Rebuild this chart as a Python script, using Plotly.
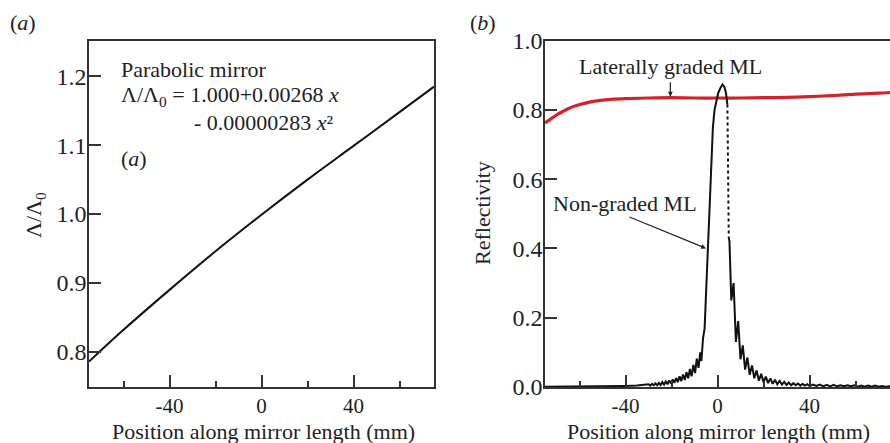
import plotly.graph_objects as go

# ---------------- data ----------------
# (a) normalized period along the parabolic mirror
pos_a = [-75, -60, -40, -20, 0, 20, 40, 60, 75]
ratio_a = [0.786, 0.832, 0.890, 0.946, 0.999, 1.050, 1.099, 1.148, 1.185]

# (b) laterally graded multilayer reflectivity
pos_graded = [-75, -72, -70, -67, -65, -62, -60, -57, -55, -50, -45, -40, -30, -20, -10, 0, 10, 20, 30, 40, 50, 60, 70, 75]
refl_graded = [0.762, 0.776, 0.785, 0.796, 0.803, 0.811, 0.815, 0.820, 0.823, 0.828, 0.831, 0.832, 0.834, 0.835, 0.834, 0.834, 0.834, 0.835, 0.836, 0.838, 0.841, 0.845, 0.848, 0.850]

# (b) non-graded multilayer reflectivity
pos_nongraded = [
    -75, -60, -50, -40, -35,
    -30, -29.25, -28.5, -27.75, -27, -26.25, -25.5, -24.75, -24, -23.25, -22.5, -21.75,
    -21, -20.25, -19.5, -18.75, -18, -17.25, -16.5, -15.75, -15, -14.25, -13.5, -12.75,
    -12, -11.25, -10.5, -9.75, -9, -8.25, -7.5, -7.0,
    -6.3, -5.6, -5.1, -4.7, -4.3, -3.8, -3.4, -3.0, -2.5, -2.0, -1.3, -0.5, 0.3, 1.2, 2.2, 3.0, 3.7, 4.3,
]
refl_nongraded = [
    0.001, 0.001, 0.002, 0.003, 0.004,
    0.008, 0.004, 0.009, 0.005, 0.010, 0.005, 0.012, 0.006, 0.014, 0.007, 0.016, 0.008,
    0.019, 0.010, 0.022, 0.012, 0.026, 0.014, 0.031, 0.017, 0.036, 0.020, 0.043, 0.025,
    0.052, 0.031, 0.064, 0.040, 0.082, 0.055, 0.100, 0.075,
    0.140, 0.170, 0.250, 0.320, 0.380, 0.480, 0.560, 0.620, 0.690, 0.750, 0.800, 0.830, 0.848, 0.862, 0.873, 0.866, 0.848, 0.815,
]
# sparsely sampled steep drop on the right edge of the peak
pos_drop = [4.3, 4.5, 4.7, 4.9]
refl_drop = [0.815, 0.700, 0.570, 0.430]
# ringing tail on the right side
pos_tail = [
    4.9, 5.2, 6, 7, 8, 9, 10, 11, 12, 13, 14, 15, 16, 17, 18, 19, 20, 21, 22, 23, 24, 25, 26, 27, 28, 29, 30,
    31, 32, 33, 34, 35, 36, 37, 38, 39, 40, 41.5, 43, 44.5, 46, 47.5, 49, 50.5, 52, 53.5, 55, 56.5, 58,
    59.5, 61, 62.5, 64, 65.5, 67, 68.5, 70, 71.5, 73, 75,
]
refl_tail = [
    0.430, 0.420, 0.250, 0.300, 0.130, 0.190, 0.080, 0.120, 0.050, 0.085, 0.035, 0.062, 0.025, 0.048, 0.018, 0.038, 0.014, 0.030, 0.011, 0.025, 0.009, 0.021, 0.008, 0.018, 0.007, 0.015, 0.006,
    0.013, 0.005, 0.011, 0.005, 0.010, 0.004, 0.009, 0.004, 0.008, 0.003, 0.007, 0.003, 0.007, 0.002, 0.006, 0.002, 0.006, 0.002, 0.005, 0.002, 0.005, 0.002,
    0.005, 0.001, 0.004, 0.001, 0.004, 0.001, 0.004, 0.001, 0.003, 0.001, 0.002,
]

x_ticks = [-40, 0, 40]
x_ticklabels = ["-40", "0", "40"]
y_ticks_a = [0.8, 0.9, 1.0, 1.1, 1.2]
y_ticks_b = [0.0, 0.2, 0.4, 0.6, 0.8, 1.0]

# ---------------- figure ----------------
W, H = 890, 443
FONT = "Liberation Serif"
INK = "#222222"
AX = "#333333"

fig = go.Figure()
fig.add_trace(go.Scatter(x=pos_a, y=ratio_a, mode="lines", line=dict(color="#111111", width=2, shape="spline"),
                         xaxis="x", yaxis="y", showlegend=False))
fig.add_trace(go.Scatter(x=pos_graded, y=refl_graded, mode="lines", line=dict(color="#d0242a", width=3.2, shape="spline"),
                         xaxis="x2", yaxis="y2", showlegend=False))
fig.add_trace(go.Scatter(x=pos_nongraded, y=refl_nongraded, mode="lines", line=dict(color="#111111", width=2),
                         xaxis="x2", yaxis="y2", showlegend=False))
fig.add_trace(go.Scatter(x=pos_drop, y=refl_drop, mode="lines", line=dict(color="#111111", width=2, dash="dot"),
                         xaxis="x2", yaxis="y2", showlegend=False))
fig.add_trace(go.Scatter(x=pos_tail, y=refl_tail, mode="lines", line=dict(color="#111111", width=2),
                         xaxis="x2", yaxis="y2", showlegend=False))

ydom = [1 - 387 / H, 1 - 40.5 / H]

def xaxis(domain, anchor):
    return dict(domain=domain, anchor=anchor, range=[-75, 75], tickvals=x_ticks, ticktext=x_ticklabels,
                ticks="inside", ticklen=12, tickwidth=1.5, tickcolor=AX, ticklabelstandoff=-1,
                minor=dict(tickvals=[-60, -20, 20, 60], ticks="inside", ticklen=6, tickwidth=1.5, tickcolor=AX),
                showline=True, linecolor=AX, linewidth=1.5, mirror=True, automargin=False,
                showgrid=False, zeroline=False,
                tickfont=dict(family=FONT, size=21, color=INK))

def yaxis(rng, vals, anchor, mirror):
    return dict(domain=ydom, range=rng, tickvals=vals, ticktext=[f"{v:.1f}" for v in vals],
                ticks="inside", ticklen=12, tickwidth=1.5, tickcolor=AX, ticklabelstandoff=-4,
                showline=True, linecolor=AX, linewidth=1.5, mirror=mirror, automargin=False,
                showgrid=False, zeroline=False, anchor=anchor,
                tickfont=dict(family=FONT, size=24, color=INK))

fig.update_layout(
    width=W, height=H, margin=dict(l=0, r=0, t=0, b=0, pad=0, autoexpand=False),
    paper_bgcolor="white", plot_bgcolor="white",
    xaxis=xaxis([89 / W, 434 / W], "y"),
    yaxis=yaxis([0.749, 1.252], y_ticks_a, "x", True),
    xaxis2=xaxis([545 / W, 1.0], "y2"),
    yaxis2=yaxis([0, 1.0], y_ticks_b, "x2", False),
)

def txt(px, py, s, anchor="left", size=22, angle=0):
    fig.add_annotation(x=px / W, y=1 - py / H, xref="paper", yref="paper", text=s, showarrow=False,
                       xanchor=anchor, yanchor="middle", textangle=angle,
                       font=dict(family=FONT, size=size, color=INK))

txt(8, 22, "(<i>a</i>)")
txt(468, 22, "(<i>b</i>)")
txt(263, 431, "Position along mirror length (mm)", anchor="center", size=22)
txt(718, 431, "Position along mirror length (mm)", anchor="center", size=22)
txt(35, 215, "Λ/Λ<sub>0</sub>", anchor="center", angle=-90)
txt(483, 213, "Reflectivity", anchor="center", angle=-90)
txt(119, 69, "Parabolic mirror")
txt(119, 96, "Λ/Λ<sub>0</sub> = 1.000+0.00268 <i>x</i>")
txt(192, 122, "- 0.00000283 <i>x</i>²")
txt(119, 158, "(<i>a</i>)")
txt(670, 67, "Laterally graded ML", anchor="center")
txt(625, 203, "Non-graded ML", anchor="center")

fig.add_annotation(x=-20.5, y=0.838, xref="x2", yref="y2", ax=0, ay=-16, text="", showarrow=True,
                   arrowhead=2, arrowsize=0.8, arrowwidth=1.2, arrowcolor=INK)
fig.add_annotation(x=-5.0, y=0.40, xref="x2", yref="y2", ax=-78, ay=-32, text="", showarrow=True,
                   arrowhead=2, arrowsize=0.8, arrowwidth=1.2, arrowcolor=INK)

fig.write_html("out.html")
